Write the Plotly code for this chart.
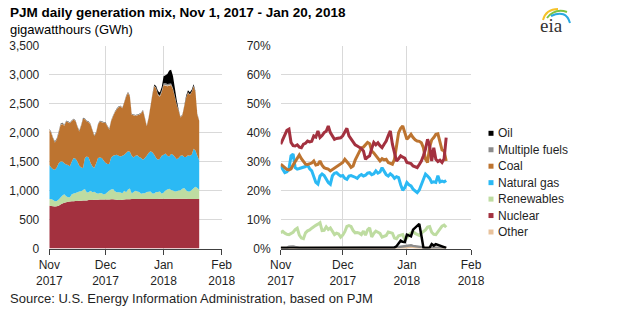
import pandas as pd
import plotly.graph_objects as go

# ---------------- data ----------------
dates = pd.date_range("2017-11-01", "2018-01-20", freq="D")

month_ticks = ["2017-11-01", "2017-12-01", "2018-01-01", "2018-02-01"]
month_labels = ["Nov<br>2017", "Dec<br>2017", "Jan<br>2018", "Feb<br>2018"]
gwh_ticks = [0, 500, 1000, 1500, 2000, 2500, 3000, 3500]
gwh_labels = ["0", "500", "1,000", "1,500", "2,000", "2,500", "3,000", "3,500"]
pct_ticks = [0, 10, 20, 30, 40, 50, 60, 70]
pct_labels = ["0%", "10%", "20%", "30%", "40%", "50%", "60%", "70%"]

# Left panel: daily generation, GWh
nuclear_gwh = [740, 735, 730, 725, 730, 740, 760, 775, 790, 800,
               805, 810, 815, 815, 820, 820, 825, 825, 830, 830,
               830, 835, 835, 835, 840, 840, 840, 845, 845, 845,
               845, 845, 845, 850, 850, 845, 840, 835, 835, 840,
               845, 850, 850, 850, 855, 855, 855, 855, 855, 855,
               855, 855, 855, 855, 855, 855, 855, 855, 855, 860,
               860, 860, 860, 860, 860, 860, 860, 860, 860, 860,
               860, 860, 860, 860, 855, 855, 855, 855, 855, 855,
               855]
renewables_gwh = [115, 120, 105, 90, 90, 105, 120, 140, 145, 100,
                  80, 75, 120, 135, 140, 150, 160, 165, 180, 195,
                  135, 135, 160, 135, 140, 120, 105, 115, 110, 85,
                  100, 125, 155, 170, 175, 145, 130, 135, 130, 115,
                  150, 120, 170, 185, 95, 120, 140, 130, 120, 90,
                  100, 100, 120, 125, 130, 95, 95, 120, 120, 125,
                  85, 105, 140, 160, 170, 150, 140, 125, 130, 140,
                  145, 170, 185, 145, 130, 130, 155, 185, 210, 190,
                  160]
gas_gwh = [585, 545, 535, 545, 580, 625, 620, 585, 535, 550,
           555, 535, 565, 610, 590, 530, 445, 410, 380, 535,
           625, 600, 485, 450, 410, 510, 615, 610, 605, 590,
           535, 490, 460, 550, 575, 620, 650, 630, 625, 645,
           625, 680, 660, 635, 650, 595, 605, 625, 605, 615,
           575, 605, 625, 670, 695, 710, 670, 585, 555, 565,
           655, 655, 640, 580, 560, 620, 620, 595, 550, 560,
           595, 580, 535, 575, 625, 615, 610, 680, 625, 555,
           505]
coal_gwh = [610, 600, 530, 470, 480, 530, 630, 650, 650, 740,
            740, 740, 700, 665, 650, 600, 590, 720, 850, 670,
            600, 610, 660, 620, 550, 530, 580, 620, 620, 650,
            690, 650, 590, 630, 680, 740, 780, 840, 860, 820,
            900, 970, 1010, 950, 710, 730, 690, 690, 730, 770,
            850, 690, 510, 600, 770, 990, 1180, 1200, 1120, 1070,
            1100, 1200, 1170, 1200, 1220, 1190, 1130, 1040, 940, 820,
            660, 690, 870, 1020, 1080, 1050, 1080, 1080, 1010, 710,
            680]
other_gwh = [4, 4, 4, 4, 4, 4, 4, 4, 4, 4,
             4, 4, 4, 4, 4, 4, 4, 4, 4, 4,
             4, 4, 4, 4, 4, 4, 4, 4, 4, 4,
             4, 4, 4, 4, 4, 4, 4, 4, 4, 4,
             4, 4, 4, 4, 4, 4, 4, 4, 4, 4,
             4, 4, 4, 4, 4, 4, 4, 4, 4, 4,
             4, 6, 12, 14, 12, 6, 4, 4, 4, 4,
             4, 4, 4, 4, 4, 4, 4, 4, 4, 4,
             4]
multiple_gwh = [6, 6, 6, 6, 12, 14, 14, 10, 6, 6,
                6, 6, 6, 6, 6, 6, 6, 6, 6, 6,
                6, 6, 6, 6, 6, 6, 6, 6, 6, 6,
                6, 6, 6, 6, 6, 6, 6, 6, 6, 6,
                6, 6, 6, 6, 6, 6, 6, 6, 6, 6,
                6, 6, 6, 6, 6, 6, 8, 10, 14, 18,
                22, 28, 30, 26, 22, 20, 14, 8, 6, 6,
                6, 6, 6, 6, 6, 6, 6, 6, 6, 6,
                6]
oil_gwh = [5, 5, 5, 5, 5, 5, 5, 5, 5, 5,
           5, 5, 5, 5, 5, 5, 5, 5, 5, 5,
           5, 5, 5, 5, 5, 5, 5, 5, 5, 5,
           5, 5, 5, 5, 5, 5, 5, 5, 5, 5,
           5, 5, 5, 5, 5, 5, 5, 5, 5, 5,
           5, 5, 5, 5, 5, 5, 20, 30, 50, 50,
           60, 120, 140, 170, 230, 240, 210, 140, 70, 15,
           5, 5, 5, 25, 30, 35, 30, 25, 10, 5,
           5]

# Right panel: share of daily generation, %
nuclear_pct = [36.0, 37.5, 39.4, 40.8, 41.2, 36.6, 35.5, 35.4, 35.8, 35.0,
               34.8, 36.0, 36.3, 37.1, 36.8, 37.0, 38.9, 38.5, 40.6, 38.3,
               39.0, 40.0, 40.5, 42.3, 40.0, 39.0, 37.7, 38.0, 38.0, 38.2,
               38.9, 40.0, 41.5, 38.9, 37.8, 36.6, 35.8, 35.4, 35.0, 34.5,
               33.7, 30.8, 31.5, 32.0, 34.5, 36.6, 35.8, 36.5, 35.5, 34.8,
               36.0, 37.1, 39.0, 40.6, 36.0, 32.6, 30.2, 31.0, 32.0, 31.5,
               31.2, 29.7, 29.5, 29.3, 28.5, 28.3, 27.9, 29.0, 30.2, 32.0,
               34.3, 37.7, 35.5, 30.2, 34.8, 30.8, 30.0, 30.5, 29.7, 31.0,
               38.3]
coal_pct = [29.1, 28.5, 27.9, 27.3, 27.1, 27.5, 28.8, 30.0, 31.5, 32.3,
            31.0, 30.0, 29.1, 29.0, 29.2, 29.5, 30.2, 28.8, 29.0, 30.2,
            28.8, 27.9, 27.6, 27.4, 26.8, 27.3, 27.9, 28.5, 28.8, 29.3,
            29.7, 30.8, 30.0, 29.1, 28.0, 28.5, 30.5, 32.0, 33.0, 34.8,
            35.0, 36.0, 36.6, 36.2, 33.7, 33.0, 32.0, 31.0, 30.2, 31.0,
            30.6, 30.8, 29.7, 29.4, 29.1, 30.8, 36.0, 40.0, 41.5, 42.3,
            40.0, 37.7, 38.5, 39.4, 38.3, 37.5, 37.1, 37.0, 36.5, 34.8,
            30.8, 29.7, 35.0, 37.5, 38.3, 39.4, 39.6, 36.6, 34.0, 33.7,
            30.2]
gas_pct = [28.5, 27.5, 26.2, 26.5, 27.5, 32.0, 32.6, 27.9, 27.4, 27.6,
           27.8, 28.0, 28.3, 28.8, 27.5, 26.8, 25.0, 22.8, 22.2, 25.0,
           25.7, 25.2, 24.0, 22.8, 22.2, 25.1, 26.0, 26.2, 25.5, 25.0,
           25.2, 24.2, 23.9, 25.0, 25.2, 25.0, 24.6, 24.2, 25.1, 25.5,
           25.0, 25.3, 26.0, 26.2, 25.5, 25.8, 26.8, 26.0, 26.4, 27.9,
           26.5, 25.5, 25.0, 25.8, 25.2, 24.2, 24.8, 24.5, 22.0, 20.1,
           21.0, 22.8, 22.0, 21.6, 20.5, 20.0, 19.3, 20.2, 22.0, 24.2,
           25.7, 25.0, 24.2, 22.8, 23.0, 22.8, 25.1, 23.0, 23.3, 23.0,
           23.5]
renewables_pct = [5.5, 5.9, 5.3, 4.9, 4.8, 5.2, 5.6, 6.5, 7.0, 4.6,
                  3.6, 3.4, 5.4, 6.1, 6.4, 7.0, 7.6, 8.0, 8.4, 8.9,
                  6.2, 6.3, 7.5, 6.6, 7.1, 6.0, 4.8, 5.3, 5.0, 3.9,
                  4.6, 5.8, 7.6, 7.9, 7.6, 6.2, 5.4, 5.5, 5.3, 4.8,
                  6.0, 4.6, 6.4, 7.1, 4.0, 5.2, 6.0, 5.6, 5.2, 3.9,
                  4.2, 4.5, 5.7, 5.6, 5.3, 3.6, 3.4, 4.4, 4.6, 4.8,
                  3.0, 3.6, 4.8, 5.5, 5.9, 5.2, 4.8, 4.5, 5.3, 5.8,
                  6.4, 7.4, 7.6, 5.6, 4.9, 4.8, 5.8, 6.6, 7.7, 8.1,
                  7.3]
oil_pct = [0.2, 0.2, 0.2, 0.1, 0.1, 0.2, 0.2, 0.2, 0.2, 0.2,
           0.2, 0.2, 0.2, 0.2, 0.2, 0.2, 0.2, 0.2, 0.2, 0.2,
           0.2, 0.2, 0.2, 0.2, 0.2, 0.2, 0.2, 0.2, 0.2, 0.2,
           0.2, 0.2, 0.2, 0.2, 0.2, 0.2, 0.3, 0.2, 0.2, 0.2,
           0.3, 0.2, 0.2, 0.2, 0.2, 0.2, 0.2, 0.2, 0.2, 0.2,
           0.2, 0.2, 0.2, 0.2, 0.2, 0.3, 0.8, 1.8, 2.7, 2.3,
           2.2, 4.8, 4.4, 4.2, 6.5, 7.2, 8.1, 8.5, 4.5, 0.3,
           0.2, 0.2, 0.3, 1.5, 1.0, 1.5, 1.2, 0.9, 0.8, 0.3,
           0.2]
multiple_pct = [0.3, 0.3, 0.3, 0.3, 0.6, 0.7, 0.7, 0.5, 0.3, 0.3,
                0.3, 0.3, 0.3, 0.3, 0.3, 0.3, 0.3, 0.3, 0.3, 0.3,
                0.3, 0.3, 0.3, 0.3, 0.3, 0.3, 0.3, 0.3, 0.3, 0.3,
                0.3, 0.3, 0.3, 0.3, 0.3, 0.3, 0.3, 0.3, 0.3, 0.3,
                0.3, 0.3, 0.3, 0.3, 0.3, 0.3, 0.3, 0.3, 0.3, 0.3,
                0.3, 0.3, 0.3, 0.3, 0.3, 0.3, 0.4, 0.5, 0.6, 0.7,
                0.8, 1.0, 1.2, 1.1, 0.9, 0.8, 0.6, 0.4, 0.3, 0.3,
                0.3, 0.3, 0.3, 0.3, 0.3, 0.3, 0.3, 0.3, 0.3, 0.3,
                0.3]
other_pct = [0.2, 0.2, 0.2, 0.2, 0.2, 0.2, 0.2, 0.2, 0.2, 0.2,
             0.2, 0.2, 0.2, 0.2, 0.2, 0.2, 0.2, 0.2, 0.2, 0.2,
             0.2, 0.2, 0.2, 0.2, 0.2, 0.2, 0.2, 0.2, 0.2, 0.2,
             0.2, 0.2, 0.2, 0.2, 0.2, 0.2, 0.2, 0.2, 0.2, 0.2,
             0.2, 0.2, 0.2, 0.2, 0.2, 0.2, 0.2, 0.2, 0.2, 0.2,
             0.2, 0.2, 0.2, 0.2, 0.2, 0.2, 0.2, 0.2, 0.2, 0.2,
             0.2, 0.3, 0.5, 0.6, 0.5, 0.3, 0.2, 0.2, 0.2, 0.2,
             0.2, 0.2, 0.2, 0.2, 0.2, 0.2, 0.2, 0.2, 0.2, 0.2,
             0.2]

legend_names = ["Oil", "Multiple fuels", "Coal", "Natural gas", "Renewables", "Nuclear", "Other"]

# ---------------- styling ----------------
W, H = 620, 326
FONT = "Liberation Sans, Arial, sans-serif"
TXT = "#1f1f1f"
GRID = "#D9D9D9"
AXIS = "#404040"
colors = {
    "Oil": "#000000",
    "Multiple fuels": "#8C8C8C",
    "Coal": "#BD7430",
    "Natural gas": "#2BB9F4",
    "Renewables": "#BEDCA1",
    "Nuclear": "#A3313F",
    "Other": "#E8C29C",
}


def px(x):
    return x / W


def py(y):
    return 1 - y / H


fig = go.Figure()

# left: stacked areas
for name, vals in [("Nuclear", nuclear_gwh), ("Renewables", renewables_gwh),
                   ("Natural gas", gas_gwh), ("Coal", coal_gwh),
                   ("Other", other_gwh), ("Multiple fuels", multiple_gwh),
                   ("Oil", oil_gwh)]:
    fig.add_trace(go.Scatter(
        x=dates, y=vals, name=name, stackgroup="gwh", mode="none",
        fillcolor=colors[name], line=dict(width=0), showlegend=False,
        xaxis="x", yaxis="y", hoverinfo="skip"))

# right: share lines
for name, vals, w in [("Other", other_pct, 2.5), ("Multiple fuels", multiple_pct, 2.5),
                      ("Renewables", renewables_pct, 3), ("Natural gas", gas_pct, 3),
                      ("Coal", coal_pct, 3), ("Nuclear", nuclear_pct, 3),
                      ("Oil", oil_pct, 2.5)]:
    fig.add_trace(go.Scatter(
        x=dates, y=vals, name=name, mode="lines",
        line=dict(color=colors[name], width=w), showlegend=False,
        xaxis="x2", yaxis="y2", hoverinfo="skip"))

ydom = [py(248.5), py(45.7)]
xcommon = dict(
    range=["2017-11-01", "2018-02-01"], tickmode="array",
    tickvals=month_ticks, ticktext=month_labels, automargin=False,
    showgrid=True, gridcolor=GRID, gridwidth=1,
    showline=True, linecolor=AXIS, linewidth=1,
    ticks="outside", ticklen=5, tickcolor=AXIS, tickwidth=1,
    tickfont=dict(family=FONT, size=12, color=TXT), zeroline=False,
)
ycommon = dict(
    showgrid=True, gridcolor=GRID, gridwidth=1, zeroline=False,
    showline=False, ticks="", ticklabelstandoff=9, automargin=False,
    tickmode="array", tickfont=dict(family=FONT, size=12, color=TXT),
)

fig.update_layout(
    width=W, height=H, margin=dict(l=0, r=0, t=0, b=0, pad=0, autoexpand=False),
    paper_bgcolor="white", plot_bgcolor="white", showlegend=False,
    xaxis=dict(domain=[px(49.3), px(221.7)], anchor="y", **xcommon),
    yaxis=dict(domain=ydom, anchor="x", range=[0, 3500.5],
               tickvals=gwh_ticks, ticktext=gwh_labels, **ycommon),
    xaxis2=dict(domain=[px(280.7), px(471)], anchor="y2", **xcommon),
    yaxis2=dict(domain=ydom, anchor="x2", range=[0, 70.01],
                tickvals=pct_ticks, ticktext=pct_labels, **ycommon),
)

annotations = [
    dict(text="<b>PJM daily generation mix, Nov 1, 2017 - Jan 20, 2018</b>",
         x=px(8), y=py(12.8), xanchor="left", yanchor="middle",
         font=dict(family=FONT, size=13.5, color="#000")),
    dict(text="gigawatthours (GWh)", x=px(8), y=py(29), xanchor="left",
         yanchor="middle", font=dict(family=FONT, size=13, color="#000")),
    dict(text="Source: U.S. Energy Information Administration, based on PJM",
         x=px(8), y=py(298), xanchor="left", yanchor="middle",
         font=dict(family=FONT, size=13, color=TXT)),
    dict(text="eia", x=px(551), y=py(26), xanchor="center", yanchor="middle",
         font=dict(family="Liberation Serif, serif", size=19, color="#333")),
]
shapes = []
legend_y0 = 133.3
for i, name in enumerate(legend_names):
    cy = legend_y0 + i * 16.45
    shapes.append(dict(type="rect", xref="paper", yref="paper",
                       x0=px(488.5), x1=px(493.5), y0=py(cy + 2.5), y1=py(cy - 2.5),
                       fillcolor=colors[name], line=dict(width=0)))
    annotations.append(dict(text=name, x=px(495.5), y=py(cy), xanchor="left",
                            yanchor="middle", showarrow=False,
                            font=dict(family=FONT, size=12, color=TXT)))


def arc(p0, c, p1, col, w):
    return dict(type="path", xref="paper", yref="paper",
                path=f"M {px(p0[0])},{py(p0[1])} Q {px(c[0])},{py(c[1])} {px(p1[0])},{py(p1[1])}",
                line=dict(color=col, width=w))


shapes += [
    arc((543, 20), (546, 9), (558, 9), "#F5C229", 2),
    arc((547, 18), (555, 8), (567, 12), "#7DC242", 2),
    arc((551, 16), (566, 9), (570, 23), "#29A8E0", 2),
]

for a in annotations:
    a.setdefault("showarrow", False)
    a.setdefault("xref", "paper")
    a.setdefault("yref", "paper")

fig.update_layout(annotations=annotations, shapes=shapes)
fig.write_html("out.html")
